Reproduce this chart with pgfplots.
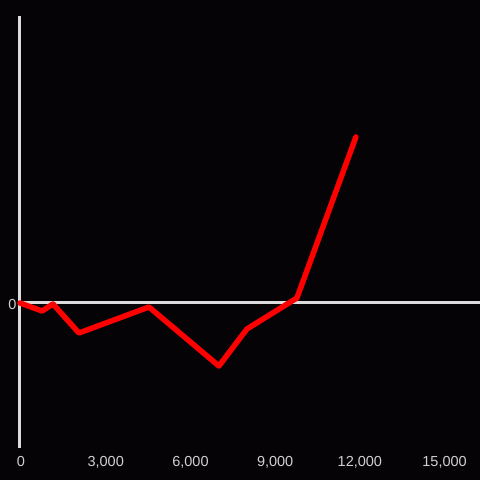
\documentclass[border=0pt]{standalone}
\usepackage{pgfplots}
\pgfplotsset{compat=1.18}
\usepackage{fontspec}
\setmainfont{Liberation Sans}
\definecolor{bg}{HTML}{050306}
\definecolor{axc}{HTML}{DCDCDC}
\definecolor{tickc}{HTML}{D0D0D0}
\begin{document}
\begin{tikzpicture}
\fill[bg] (-20pt,-32pt) rectangle (460pt,448pt);
\useasboundingbox (-20pt,-32pt) rectangle (460pt,448pt);
\begin{axis}[
  at={(0,0)}, anchor=south west,
  x=0.02825pt, y=1pt,
  xmin=0, xmax=16283, ymin=-145, ymax=287,
  axis line style={draw=none},
  major tick length=0pt,
  xtick={0,3000,6000,9000,12000,15000},
  ytick={0},
  /pgf/number format/assume math mode=true,
  /pgf/number format/1000 sep={,},
  scaled x ticks=false,
  tick label style={font=\fontsize{14.5}{16}\selectfont, text=tickc},
  xticklabel style={yshift=-5pt, xshift=1pt},
  yticklabel style={yshift=-1.5pt},
  clip=false,
]
\draw[axc, line width=3pt] (axis cs:0,0) -- (axis cs:16283,0);
\draw[axc, line width=3pt] (axis cs:0,-145) -- (axis cs:0,287);
\addplot[color=red, line width=5.5pt, line join=round, line cap=round, mark=none] coordinates {
(0,0) (779,-8) (1168,-1) (2088,-30) (4566,-4) (7044,-63) (8035,-26) (9805,5) (11894,166)
};
\end{axis}
\end{tikzpicture}
\end{document}
